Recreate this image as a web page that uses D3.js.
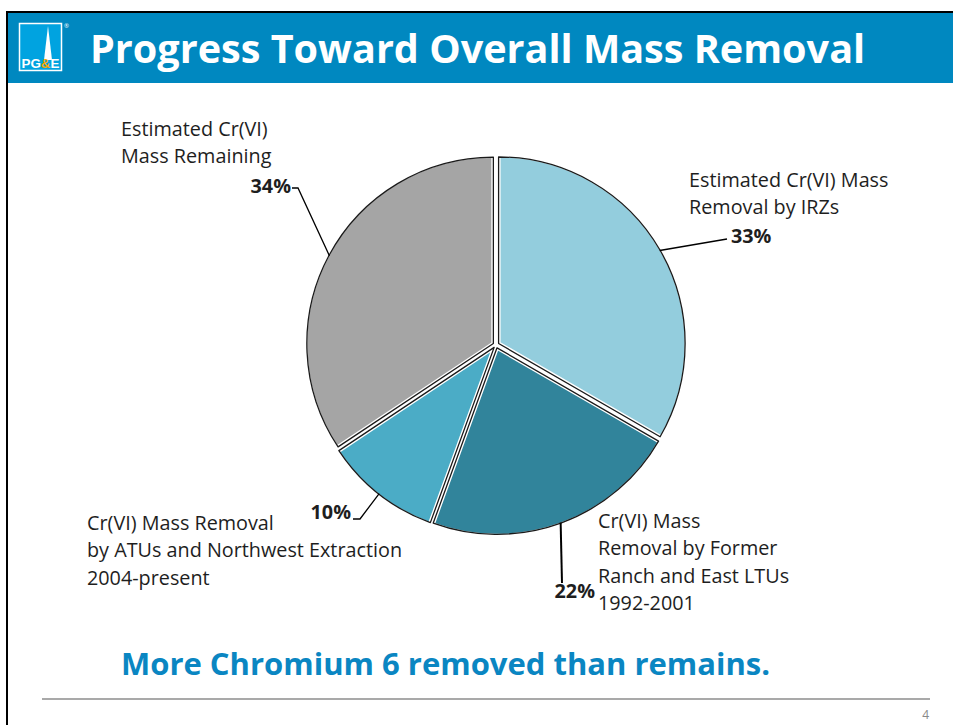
<!DOCTYPE html>
<html><head><meta charset="utf-8">
<script src="https://cdn.jsdelivr.net/npm/d3@7"></script>
<style>
html,body{margin:0;padding:0;background:#fff;}
svg{display:block;}
</style></head>
<body>
<svg id="chart" width="953" height="725"></svg>
<script>
// ---- data ----
const categories = [
  "Estimated Cr(VI) Mass Removal by IRZs",
  "Cr(VI) Mass Removal by Former Ranch and East LTUs 1992-2001",
  "Cr(VI) Mass Removal by ATUs and Northwest Extraction 2004-present",
  "Estimated Cr(VI) Mass Remaining"
];
const values = [33, 22, 10, 34];
const percentLabels = ["33%", "22%", "10%", "34%"];
const labelLines = [
  ["Estimated Cr(VI) Mass", "Removal by IRZs"],
  ["Cr(VI) Mass", "Removal by Former", "Ranch and East LTUs", "1992-2001"],
  ["Cr(VI) Mass Removal", "by ATUs and Northwest Extraction", "2004-present"],
  ["Estimated Cr(VI)", "Mass Remaining"]
];
const titleText = "Progress Toward Overall Mass Removal";
const subtitleText = "More Chromium 6 removed than remains.";
const pageNumber = "4";

// ---- styles / layout ----
const colors = ["#93CDDD", "#31849B", "#4BACC6", "#A5A5A5"];
const FONT = "'Open Sans', Lato, sans-serif";
const cx = 496, cy = 345, R = 188, explode = 3;
const lh = 27.3;
const LFS = 19.8;
// label layout: text block origin, percent position + anchor, leader knee points
const layout = [
  {tx: 689, ty: 187, px: 731, py: 243, panchor: "start", knee: [[727, 239]]},
  {tx: 598, ty: 528, px: 595, py: 598, panchor: "end", knee: [[562, 583]]},
  {tx: 87,  ty: 530, px: 351, py: 519, panchor: "end", knee: [[360, 519], [353, 519]]},
  {tx: 121, ty: 136, px: 291, py: 193, panchor: "end", knee: [[298, 188], [292, 188]]}
];

const svg = d3.select("#chart");

// slide frame
svg.append("rect").attr("x", 7).attr("y", 12).attr("width", 953).attr("height", 720)
  .attr("fill", "#fff").attr("stroke", "#000").attr("stroke-width", 2);
// header bar
svg.append("rect").attr("x", 8).attr("y", 13).attr("width", 945).attr("height", 70)
  .attr("fill", "#0088C0");
// logo
const logo = svg.append("g");
logo.append("rect").attr("x", 19.5).attr("y", 23.5).attr("width", 42).attr("height", 47)
  .attr("fill", "#00A3E0").attr("stroke", "#fff").attr("stroke-width", 1.5);
logo.append("path").attr("d", "M48,26 L44,60 L52,60 Z").attr("fill", "#fff");
logo.append("text").attr("x", 40.5).attr("y", 68).attr("text-anchor", "middle")
  .attr("font-family", "'Liberation Sans Narrow', 'Liberation Sans', sans-serif").attr("font-weight", "bold")
  .attr("font-size", 13).attr("textLength", 38).attr("lengthAdjust", "spacingAndGlyphs")
  .selectAll("tspan").data([["PG", "#fff"], ["&", "#F7A800"], ["E", "#fff"]]).join("tspan")
  .attr("fill", d => d[1]).text(d => d[0]);
logo.append("text").attr("x", 64).attr("y", 28).attr("font-size", 6).attr("fill", "#fff")
  .attr("font-family", FONT).text("®");

// title
svg.append("text").attr("x", 90).attr("y", 63)
  .attr("font-family", FONT).attr("font-weight", "bold").attr("font-size", 39.6)
  .attr("fill", "#fff").text(titleText);

// pie
const pie = d3.pie().sort(null).startAngle(0).endAngle(2 * Math.PI);
const arcs = pie(values);
const arc = d3.arc().innerRadius(0).outerRadius(R);
const g = svg.append("g").attr("transform", `translate(${cx},${cy})`);

function offset(d) {
  const a = (d.startAngle + d.endAngle) / 2;
  return [Math.sin(a) * explode, -Math.cos(a) * explode];
}
g.selectAll("path.slice").data(arcs).join("path").attr("class", "slice")
  .attr("transform", d => { const o = offset(d); return `translate(${o[0]},${o[1]})`; })
  .attr("d", arc)
  .attr("fill", (d, i) => colors[i])
  .attr("stroke", "#fff").attr("stroke-width", 4).attr("stroke-linejoin", "round");
g.selectAll("path.outline").data(arcs).join("path").attr("class", "outline")
  .attr("transform", d => { const o = offset(d); return `translate(${o[0]},${o[1]})`; })
  .attr("d", d3.arc().innerRadius(0).outerRadius(R - 1.5))
  .attr("fill", "none")
  .attr("stroke", "#1a1a1a").attr("stroke-width", 1.3).attr("stroke-linejoin", "round");

// leaders
const line = d3.line();
arcs.forEach((d, i) => {
  const a = (d.startAngle + d.endAngle) / 2;
  const o = offset(d);
  const start = [cx + o[0] + Math.sin(a) * (R - 2), cy + o[1] - Math.cos(a) * (R - 2)];
  svg.append("path").attr("d", line([start, ...layout[i].knee]))
    .attr("fill", "none").attr("stroke", "#000").attr("stroke-width", i === 1 ? 2 : 1.3);
});

// labels
labelLines.forEach((lines, i) => {
  const L = layout[i];
  const t = svg.append("text").attr("font-family", FONT).attr("font-size", LFS).attr("fill", "#1e1e1e");
  lines.forEach((s, k) => {
    t.append("tspan").attr("x", L.tx).attr("y", L.ty + k * lh).text(s);
  });
  svg.append("text").attr("x", L.px).attr("y", L.py).attr("text-anchor", L.panchor)
    .attr("font-family", FONT).attr("font-weight", "bold").attr("font-size", LFS).attr("fill", "#1e1e1e")
    .text(percentLabels[i]);
});

// subtitle
svg.append("text").attr("x", 121).attr("y", 675)
  .attr("font-family", FONT).attr("font-weight", "bold").attr("font-size", 31)
  .attr("fill", "#0A86C2").text(subtitleText);

// footer rule
svg.append("line").attr("x1", 42).attr("x2", 930).attr("y1", 699).attr("y2", 699)
  .attr("stroke", "#8c8c8c").attr("stroke-width", 1.5);
svg.append("text").attr("x", 929).attr("y", 719).attr("text-anchor", "end")
  .attr("font-family", FONT).attr("font-size", 12).attr("fill", "#888").text(pageNumber);
</script>
</body></html>
